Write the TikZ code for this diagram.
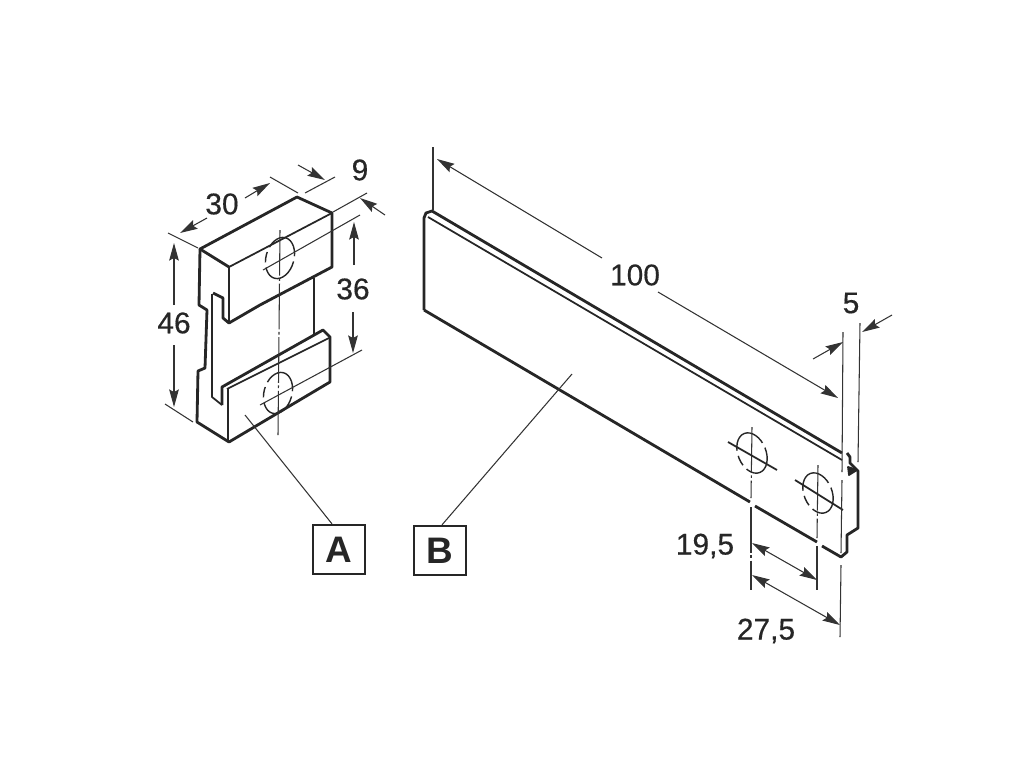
\documentclass[tikz,border=0pt]{standalone}
\usepackage{fontspec}
\setmainfont{Liberation Sans}
\newfontfamily\dimfont[FakeBold=0.5]{Liberation Sans}
\usetikzlibrary{arrows.meta}
\tikzset{
    partline/.style={line width=1.6pt,line join=round,black!85},
    edgeline/.style={line width=1pt,line join=round,black!85},
    dimline/.style={line width=0.6pt,black!80},
    dimarrow/.style={dimline,-{Stealth[length=10pt,width=5.5pt,inset=1.5pt]}},
    bothdim/.style={dimline,{Stealth[length=10pt,width=5.5pt,inset=1.5pt]}-{Stealth[length=10pt,width=5.5pt,inset=1.5pt]}},
    axisline/.style={line width=0.6pt,black!80,dash pattern=on 26pt off 1.5pt on 1.5pt off 1.5pt},
    holeline/.style={line width=0.8pt,black!85,dash pattern=on 24pt off 3pt on 6pt off 3pt},
    dimlabel/.style={font=\fontsize{17}{20}\dimfont,text=black!85,inner sep=0pt},
    tagbox/.style={draw=black!85,line width=1.2pt,minimum width=29.5pt,minimum height=28pt,inner sep=0pt,
        font=\fontsize{21}{24}\selectfont\bfseries,text=black!85}
}
\begin{document}
\begin{tikzpicture}[x=0.02cm,y=-0.02cm]
\useasboundingbox (0,0) rectangle (1024,768);

% part A
\draw[partline] (229,267) -- (200,249) -- (297,197) -- (332,213) -- (332,267) -- (260,305) -- (229,323) -- (223,318) -- (223,298) -- (213,293);
\draw[partline] (200,249) -- (199,305) -- (207,310) -- (205,368) -- (198,371) -- (197,422) -- (229,442) -- (330,382) -- (330,337) -- (323,330) -- (222,387) -- (222,405);
\draw[edgeline] (212,294) -- (212,397) -- (222,405);
\draw[edgeline] (229,267) -- (229,322);
\draw[edgeline] (229,267) -- (332,213);
\draw[edgeline] (227,389) -- (329,338);
\draw[edgeline] (228,389) -- (228,440);
\draw[partline] (314,278) -- (314,335);

% part B
\draw[partline] (424,310) -- (424,218) -- (426,213) -- (432,211) -- (842,453);
\draw[edgeline] (428,217) -- (842,460);
\draw[partline] (424,310) -- (750,502);
\draw[partline] (755,506) -- (817,542);
\draw[partline] (822,546) -- (841,557) -- (847,552) -- (847,535) -- (858,528) -- (858,471) -- (850,463) -- (850,457) -- (847,453);
\draw[edgeline,fill=black!85] (848,467) -- (849,475) -- (857,470) -- cycle;

% holes
\foreach \cx/\cy/\ang in {280/258/-15, 278/393/-15, 752/453/22, 818/493/22} {
    \draw[holeline,shift={(\cx,\cy)},rotate=\ang] (0,0) ellipse [x radius=14,y radius=21];
}
\draw[axisline] (280,230) -- (278,435);
\draw[axisline] (752,427) -- (751,498);
\draw[axisline] (751,507) -- (751,590);
\draw[axisline] (818,465) -- (817,538);
\draw[axisline] (817,546) -- (817,590);
\draw[edgeline] (728,442) -- (777,470);
\draw[edgeline] (795,480) -- (843,510);

% dimensions of A
\draw[dimarrow] (207,218) -- (180,233);
\draw[dimarrow] (245,198) -- (270,183);
\draw[dimline] (168,233) -- (198,248);
\draw[dimline] (270,177) -- (298,193);
\draw[dimline] (305,193) -- (335,177);
\draw[dimline] (333,212) -- (367,193);
\draw[dimarrow] (298,165) -- (325,180);
\draw[dimarrow] (385,215) -- (360,198);
\draw[dimline] (263,270) -- (360,215);
\draw[dimline] (260,405) -- (362,350);
\draw[dimarrow] (354,265) -- (354,222);
\draw[dimarrow] (353,312) -- (353,353);
\draw[dimarrow] (174,305) -- (174,243);
\draw[dimarrow] (174,345) -- (174,407);
\draw[dimline] (165,404) -- (193,422);
\node[dimlabel] (lab30) at (222,204) {30};
\node[dimlabel] (lab9) at (360,170) {9};
\node[dimlabel] (lab36) at (353,289) {36};
\node[dimlabel] (lab46) at (174,323) {46};

% dimensions of B
\draw[dimline] (433,147) -- (433,210);
\draw[dimarrow] (602,258) -- (437,159);
\draw[dimarrow] (658,292) -- (838,398);
\draw[dimline] (843,332) -- (842,472);
\draw[dimline] (842,480) -- (841,553);
\draw[dimline] (841,565) -- (840,637);
\draw[dimline] (860,323) -- (858,462);
\draw[dimarrow] (813,359) -- (843,342);
\draw[dimarrow] (892,315) -- (862,332);
\draw[bothdim] (752,543) -- (817,580);
\draw[bothdim] (752,575) -- (840,625);
\node[dimlabel] (lab100) at (635,275) {100};
\node[dimlabel] (lab5) at (851,303) {5};
\node[dimlabel] (lab195) at (705,546) {19,5};
\node[dimlabel] (lab275) at (766,631) {27,5};

% tags
\node[tagbox] (tagA) at (339,549.5) {A};
\node[tagbox] (tagB) at (440,550.5) {B};
\coordinate (leadA) at (245,415);
\coordinate (leadB) at (572,374);
\draw[dimline] (tagA.north -| 332,0) -- (leadA);
\draw[dimline] (tagB.north -| 442,0) -- (leadB);
\end{tikzpicture}
\end{document}
